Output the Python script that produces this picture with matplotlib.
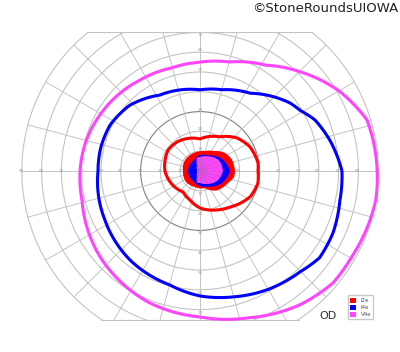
import numpy as np
import matplotlib
matplotlib.use('Agg')
import matplotlib.pyplot as plt
from matplotlib.patches import Circle, Rectangle, Patch, PathPatch
from matplotlib.path import Path

# isopters, polar (angle in deg, eccentricity in deg)
v4e_angle = [0, 10, 17, 30, 45, 58, 75, 90, 105, 123, 151, 165, 180, 194, 221, 249, 270, 288, 307, 320, 330, 344, 351]
v4e_radius = [89.5, 88.8, 88.2, 81, 71, 63, 57, 55, 54, 55, 58, 59.5, 60.6, 61.4, 66.6, 71.3, 73.7, 78, 84.4, 87.8, 88, 89.4, 90]

i4e_angle = [0, 13, 24, 31, 37, 57, 75, 90, 118, 137, 153, 167, 180, 207, 232, 255, 270, 285, 300, 315, 324, 335, 348]
i4e_radius = [71.7, 67.5, 63.5, 59.2, 57, 46.8, 42.5, 41, 43.4, 48.6, 51, 51.5, 51.5, 54, 57.2, 59.5, 63.1, 65.8, 69, 71.8, 74.6, 74.1, 72.2]

i2e_angle = [0, 8, 26, 42, 60, 90, 128, 147, 162, 180, 200, 231, 251, 270, 294, 310, 333, 348]
i2e_radius = [29.3, 29.6, 28, 25, 19.9, 16.2, 18.7, 19.3, 18.5, 17.7, 16.1, 13.6, 15.5, 18.7, 21.5, 23.7, 28.5, 29.9]

# filled central areas
red_fill_angle = [0, 20, 36, 56, 76, 100, 122, 150, 180, 218, 250, 286, 310, 337, 350]
red_fill_radius = [17.7, 17.1, 15.6, 12.2, 10.4, 9.8, 9.5, 9.3, 8.6, 9, 8.5, 9, 12.9, 15.4, 17.5]

blue_fill_angle = [0, 30, 60, 90, 120, 150, 180, 210, 240, 270, 300, 330]
blue_fill_radius = [15.2, 12.5, 9, 8.1, 6.2, 6, 6, 6, 6.2, 7.6, 9, 12.5]

mag_fill_angle = [0, 30, 60, 90, 102, 120, 150, 180, 210, 240, 256, 270, 300, 330]
mag_fill_radius = [11.6, 11, 8.5, 7, 7, 3, 1.7, 1.5, 1.7, 3, 6.2, 6, 7.5, 10]

legend_labels = ['I2e', 'I4e', 'V4e']
colors = ['#ff0000', '#0000ff', '#ff44ff']

rings = list(range(10, 100, 10))
h_labels = list(range(10, 100, 10))
v_labels = list(range(10, 80, 10))


def polar_path(angle, radius):
    t = np.radians(np.append(angle, angle[0] + 360))
    r = np.append(radius, radius[0])
    # polar transform draws each segment as a curve when interpolation steps > 1
    return Path(np.column_stack([t, r]), _interpolation_steps=40)


px = 1.98  # pixels per degree
cx, cy = 200, 171  # centre in pixels from top-left
fig = plt.figure(figsize=(4, 3.52), dpi=100)

R = 95
size = 2 * R * px
ppos = [(cx - size / 2) / 400, (352 - cy - size / 2) / 352, size / 400, size / 352]


def polar_axes(z):
    p = fig.add_axes(ppos, projection='polar')
    p.set_ylim(0, R)
    p.set_axis_off()
    p.set_facecolor('none')
    p.set_zorder(z)
    return p


# grid
ax = fig.add_axes([0, 0, 1, 1])
ax.set_zorder(1)
ax.set_facecolor('none')
ax.set_xlim(-cx / px, (400 - cx) / px)
ax.set_ylim(-(352 - cy) / px, cy / px)
ax.axis('off')

clip = Rectangle((-95, -75), 190, 145, transform=ax.transData)
grid_col = '#c4c4c4'
for r in rings:
    c = Circle((0, 0), r, fill=False, ec='#808080' if r == 30 else grid_col, lw=0.8)
    ax.add_patch(c)
    c.set_clip_path(clip)

for a in range(0, 360, 15):
    t = np.radians(a)
    ln, = ax.plot([0, 90 * np.cos(t)], [0, 90 * np.sin(t)], color=grid_col, lw=0.7)
    ln.set_clip_path(clip)

top_w = np.sqrt(90 ** 2 - 70 ** 2)
bot_w = np.sqrt(90 ** 2 - 75 ** 2)
ax.plot([-top_w, top_w], [70, 70], color=grid_col, lw=0.8)
ax.plot([-bot_w, bot_w], [-75, -75], color=grid_col, lw=0.8)

lab = dict(ha='center', va='center', fontsize=3, color='#a0a0a0')
for r in h_labels:
    ax.text(-r, 0, str(r), **lab)
    ax.text(r - 0.5, 0, str(r), **lab)
for r in v_labels:
    ax.text(0, min(r + 1, 68.5), str(r), **lab)
    ax.text(0, -r - 1.5, str(r), **lab)

# filled areas
pfill = polar_axes(1.5)
mag_patch = None
for ang, rad, col in [(red_fill_angle, red_fill_radius, colors[0]),
                      (blue_fill_angle, blue_fill_radius, colors[1]),
                      (mag_fill_angle, mag_fill_radius, colors[2])]:
    pp = PathPatch(polar_path(ang, rad), facecolor=col, edgecolor='none', transform=pfill.transData)
    pfill.add_patch(pp)
    mag_patch = pp
# grid meridians showing through the magenta area
for a in range(0, 360, 15):
    sp, = pfill.plot([np.radians(a)] * 2, [0, 12], color='#c858c8', lw=0.6)
    sp.set_clip_path(mag_patch)

# isopter lines
pline = polar_axes(2)
for ang, rad, col in [(i2e_angle, i2e_radius, colors[0]),
                      (i4e_angle, i4e_radius, colors[1]),
                      (v4e_angle, v4e_radius, colors[2])]:
    pline.add_patch(PathPatch(polar_path(ang, rad), facecolor='none', edgecolor=col,
                              lw=2.2, joinstyle='round', transform=pline.transData))

handles = [Patch(facecolor=c, edgecolor='none', label=l) for c, l in zip(colors, legend_labels)]
leg = fig.legend(handles=handles, loc='lower left', bbox_to_anchor=(0.8625, 0.085),
                 fontsize=4, frameon=True, fancybox=False, edgecolor='#bbbbbb',
                 handlelength=1.1, handleheight=1.1, handletextpad=0.8,
                 borderpad=0.4, labelspacing=0.25)
leg.set_zorder(3)
for t in leg.get_texts():
    t.set_color('#555555')

fig.text(328 / 400, 1 - 316 / 352, 'OD', ha='center', va='center', fontsize=8, color='#333333')
fig.text(398 / 400, 1 - 9 / 352, '\u00a9StoneRoundsUIOWA', ha='right', va='center',
         fontsize=9.5, color='#222222')

fig.savefig('out.png', dpi=100)
